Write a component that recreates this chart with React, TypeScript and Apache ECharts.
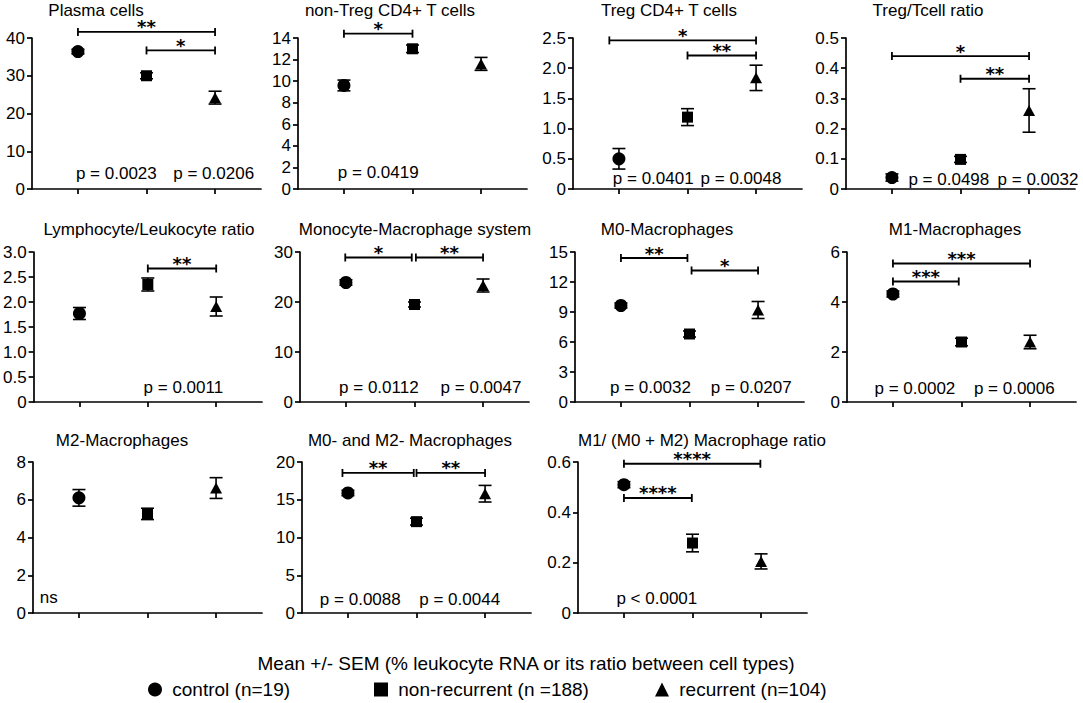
import React, { useEffect, useRef } from "react";
import * as echarts from "echarts";

const FONT = '"Liberation Sans", Arial, Helvetica, sans-serif';
const STAR_FONT = '"DejaVu Sans", "Liberation Sans", sans-serif';

// ---- data ----
const groups = ["control (n=19)", "non-recurrent (n =188)", "recurrent (n=104)"];
const groupX = [1, 2, 3];
const titles = [
  "Plasma cells",
  "non-Treg CD4+ T cells",
  "Treg CD4+ T cells",
  "Treg/Tcell ratio",
  "Lymphocyte/Leukocyte ratio",
  "Monocyte-Macrophage system",
  "M0-Macrophages",
  "M1-Macrophages",
  "M2-Macrophages",
  "M0- and M2- Macrophages",
  "M1/ (M0 + M2) Macrophage ratio",
];
const yMax = [40, 14, 2.5, 0.5, 3, 30, 15, 6, 8, 20, 0.6];
const yStep = [10, 2, 0.5, 0.1, 0.5, 10, 3, 2, 2, 5, 0.2];

const controlMean = [36.4, 9.6, 0.5, 0.038, 1.77, 23.9, 9.65, 4.32, 6.1, 15.9, 0.51];
const controlSem = [0.6, 0.5, 0.17, 0.012, 0.12, 0.55, 0.25, 0.12, 0.44, 0.35, 0.012];
const nonRecMean = [30.0, 13.0, 1.19, 0.098, 2.35, 19.5, 6.8, 2.4, 5.25, 12.1, 0.278];
const nonRecSem = [0.8, 0.35, 0.14, 0.01, 0.13, 0.5, 0.3, 0.15, 0.3, 0.45, 0.035];
const recMean = [24.2, 11.6, 1.84, 0.26, 1.91, 23.3, 9.2, 2.4, 6.62, 15.8, 0.205];
const recSem = [1.7, 0.6, 0.21, 0.072, 0.19, 1.3, 0.85, 0.27, 0.55, 1.1, 0.03];

// significance brackets per panel: [x1, x2, y, stars]
const brackets: [number, number, number, string][][] = [
  [[1, 3, 41.6, "**"], [2, 3, 36.7, "*"]],
  [[1, 2, 14.4, "*"]],
  [[0.86, 3, 2.46, "*"], [2, 3, 2.21, "**"]],
  [[1, 3, 0.44, "*"], [2, 3, 0.365, "**"]],
  [[2, 3, 2.67, "**"]],
  [[0.99, 1.96, 28.9, "*"], [2.02, 3, 28.9, "**"]],
  [[1, 1.97, 14.4, "**"], [2.03, 3, 13.15, "*"]],
  [[1, 3, 5.54, "***"], [1, 1.96, 4.82, "***"]],
  [],
  [[0.92, 1.96, 18.55, "**"], [2.0, 3.0, 18.55, "**"]],
  [[1, 2.99, 0.593, "****"], [1, 1.99, 0.457, "****"]],
];

// p-value annotations per panel: [x, y, text]
const pValues: [number, number, string][][] = [
  [[1.56, 4.2, "p = 0.0023"], [2.98, 4.2, "p = 0.0206"]],
  [[1.5, 1.5, "p = 0.0419"]],
  [[1.5, 0.166, "p = 0.0401"], [2.78, 0.166, "p = 0.0048"]],
  [[1.83, 0.033, "p = 0.0498"], [3.13, 0.033, "p = 0.0032"]],
  [[2.52, 0.3, "p = 0.0011"]],
  [[1.48, 3, "p = 0.0112"], [2.97, 3, "p = 0.0047"]],
  [[1.43, 1.5, "p = 0.0032"], [2.9, 1.5, "p = 0.0207"]],
  [[1.32, 0.56, "p = 0.0002"], [2.77, 0.56, "p = 0.0006"]],
  [[0.56, 0.8, "ns"]],
  [[1.18, 1.85, "p = 0.0088"], [2.63, 1.85, "p = 0.0044"]],
  [[1.48, 0.056, "p < 0.0001"]],
];

const caption = "Mean +/- SEM (% leukocyte RNA or its ratio between cell types)";

// ---- layout ----
const gridLeft = [32, 298, 573, 846, 33, 300, 575, 847, 33, 302, 578];
const rowTop = [38, 252, 462];
const rowHeight = [151, 150, 151];
const GRID_W = 229;
const titleX = [96, 390, 669, 928, 149, 415, 667, 955, 122, 410, 702];
const titleY = [10, 229, 440];
const symbols = ["circle", "rect", "triangle"];
const symbolSizes: any[] = [13, 11, [12, 11]];
const legendLeft = [148, 374, 655];

function textEl(x: number, y: number, text: string, font: string, align = "center") {
  return {
    type: "text",
    x,
    y,
    style: {
      text,
      font,
      fill: "#000",
      align,
      verticalAlign: "middle",
      textAlign: align,
      textVerticalAlign: "middle",
    },
  };
}

function buildOption() {
  const grid: any[] = [];
  const xAxis: any[] = [];
  const yAxis: any[] = [];
  const series: any[] = [];
  const graphic: any[] = [];
  const means = [controlMean, nonRecMean, recMean];
  const sems = [controlSem, nonRecSem, recSem];
  const axisLineStyle = { color: "#000", width: 1.7 };

  for (let i = 0; i < titles.length; i++) {
    const row = Math.floor(i / 4);
    grid.push({
      left: gridLeft[i],
      top: rowTop[row],
      width: GRID_W,
      height: rowHeight[row],
      containLabel: false,
    });
    xAxis.push({
      type: "value",
      gridIndex: i,
      min: 0.33,
      max: 3.67,
      axisLine: { show: true, onZero: false, lineStyle: axisLineStyle },
      axisTick: { show: true, customValues: groupX, length: 5, lineStyle: axisLineStyle },
      axisLabel: { show: false },
      splitLine: { show: false },
    });
    const dec = yStep[i] < 1 ? 1 : 0;
    yAxis.push({
      type: "value",
      gridIndex: i,
      min: 0,
      max: yMax[i],
      interval: yStep[i],
      axisLine: { show: true, onZero: false, lineStyle: axisLineStyle },
      axisTick: { show: true, length: 5, lineStyle: axisLineStyle },
      axisLabel: {
        fontSize: 17,
        color: "#000",
        fontFamily: FONT,
        margin: 7,
        formatter: (v: number) => (Math.abs(v) < 1e-9 ? "0" : v.toFixed(dec)),
      },
      splitLine: { show: false },
    });

    // error bars
    series.push({
      type: "custom",
      xAxisIndex: i,
      yAxisIndex: i,
      clip: false,
      silent: true,
      z: 2,
      encode: { x: 0, y: 1 },
      data: [0, 1, 2].map((g) => [groupX[g], means[g][i], sems[g][i]]),
      renderItem: (params: any, api: any) => {
        const x = api.value(0);
        const m = api.value(1);
        const s = api.value(2);
        const top = api.coord([x, m + s]);
        const bot = api.coord([x, m - s]);
        const hw = 6.5;
        const st = { stroke: "#000", lineWidth: 1.6 };
        return {
          type: "group",
          children: [
            { type: "line", shape: { x1: top[0], y1: top[1], x2: bot[0], y2: bot[1] }, style: st },
            { type: "line", shape: { x1: top[0] - hw, y1: top[1], x2: top[0] + hw, y2: top[1] }, style: st },
            { type: "line", shape: { x1: bot[0] - hw, y1: bot[1], x2: bot[0] + hw, y2: bot[1] }, style: st },
          ],
        };
      },
    });

    // markers
    for (let g = 0; g < 3; g++) {
      series.push({
        type: "scatter",
        name: groups[g],
        xAxisIndex: i,
        yAxisIndex: i,
        symbol: symbols[g],
        symbolSize: symbolSizes[g],
        data: [[groupX[g], means[g][i]]],
        itemStyle: { color: "#000", opacity: 1 },
        silent: true,
        clip: false,
        z: 3,
      });
    }

    // brackets
    const br = brackets[i];
    if (br.length) {
      series.push({
        type: "custom",
        xAxisIndex: i,
        yAxisIndex: i,
        clip: false,
        silent: true,
        z: 4,
        encode: { x: 0, y: 2 },
        data: br.map((b) => [b[0], b[1], b[2]]),
        renderItem: (params: any, api: any) => {
          const b = br[params.dataIndex];
          const p1 = api.coord([b[0], b[2]]);
          const p2 = api.coord([b[1], b[2]]);
          const st = { stroke: "#000", lineWidth: 1.8 };
          const ch = 4;
          return {
            type: "group",
            children: [
              { type: "line", shape: { x1: p1[0], y1: p1[1], x2: p2[0], y2: p2[1] }, style: st },
              { type: "line", shape: { x1: p1[0], y1: p1[1] - ch, x2: p1[0], y2: p1[1] + ch }, style: st },
              { type: "line", shape: { x1: p2[0], y1: p2[1] - ch, x2: p2[0], y2: p2[1] + ch }, style: st },
              textEl((p1[0] + p2[0]) / 2, p1[1] - 5, b[3], `bold 18px ${STAR_FONT}`),
            ],
          };
        },
      });
    }

    // p-values
    const pv = pValues[i];
    series.push({
      type: "custom",
      xAxisIndex: i,
      yAxisIndex: i,
      clip: false,
      silent: true,
      z: 4,
      encode: { x: 0, y: 1 },
      data: pv.map((p) => [p[0], p[1]]),
      renderItem: (params: any, api: any) => {
        const p = pv[params.dataIndex];
        const c = api.coord([p[0], p[1]]);
        return textEl(c[0], c[1], p[2], `17px ${FONT}`);
      },
    });

    graphic.push(textEl(titleX[i], titleY[row], titles[i], `17px ${FONT}`));
  }

  graphic.push(textEl(526, 663, caption, `19px ${FONT}`));

  const legend = [0, 1, 2].map((g) => ({
    data: [{ name: groups[g], icon: symbols[g] }],
    left: legendLeft[g],
    top: 680,
    padding: 0,
    itemWidth: 14,
    itemHeight: 14,
    selectedMode: false,
    formatter: (name: string) => " " + name,
    textStyle: { fontSize: 19, color: "#000", fontFamily: FONT },
  }));

  return {
    animation: false,
    backgroundColor: "#fff",
    grid,
    xAxis,
    yAxis,
    series,
    legend,
    graphic: { elements: graphic },
  };
}

export default function App() {
  const ref = useRef<HTMLDivElement>(null);
  useEffect(() => {
    if (!ref.current) return;
    const chart = echarts.init(ref.current, undefined, { renderer: "svg" });
    chart.setOption(buildOption() as any);
    return () => chart.dispose();
  }, []);
  return (
    <div
      ref={ref}
      style={{ position: "fixed", left: 0, top: 0, width: 1083, height: 703, background: "#fff" }}
    />
  );
}
